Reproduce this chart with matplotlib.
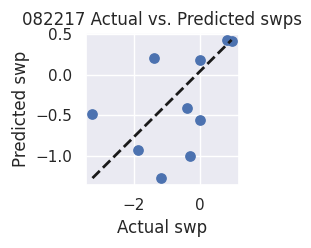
import matplotlib
matplotlib.use("Agg")
import matplotlib.pyplot as plt
import seaborn as sns

sns.set_theme()

# actual vs predicted swp values
actual = [-3.25, -1.40, 0.00, 0.81, 0.96, -0.39, 0.00, -1.88, -0.30, -1.19]
predicted = [-0.476, 0.207, 0.18, 0.43, 0.42, -0.41, -0.55, -0.93, -1.00, -1.27]
title = "082217 Actual vs. Predicted swps"

fig = plt.figure(figsize=(3.11, 2.48), dpi=100)
ax = fig.add_axes([0.275, 0.254, 0.492, 0.613])

ax.scatter(actual, predicted, s=45)
ax.plot([min(actual), max(actual)], [min(predicted), max(predicted)],
        'k--', lw=2)
ax.set_xlabel("Actual swp")
ax.set_ylabel("Predicted swp")
ax.set_title(title)

fig.savefig("out.png", dpi=100)
